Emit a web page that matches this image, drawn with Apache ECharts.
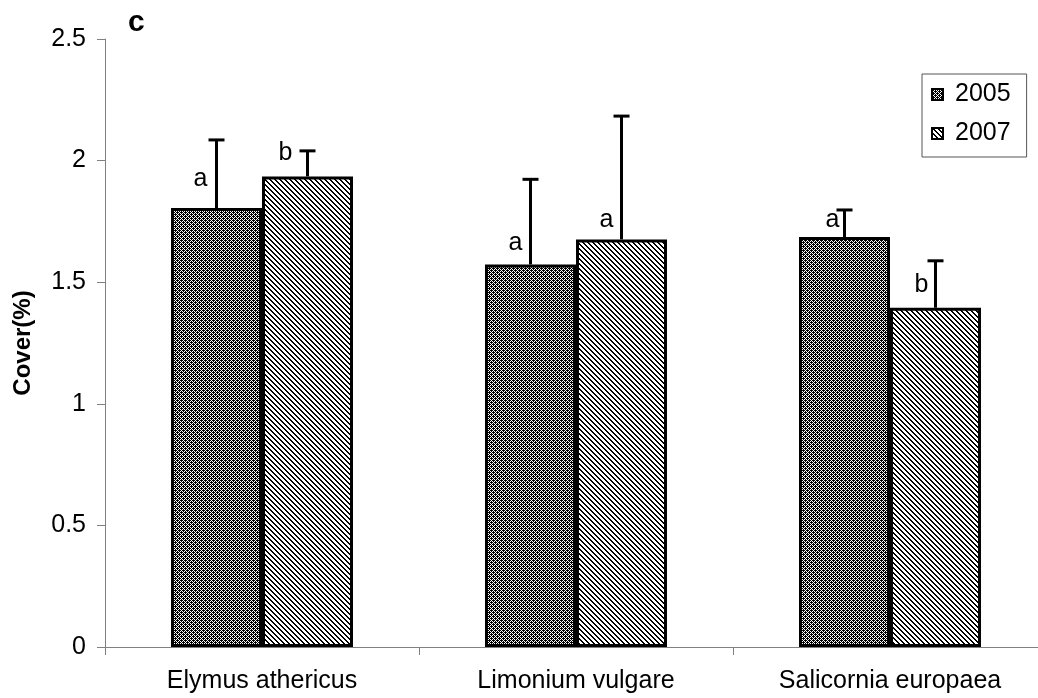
<!DOCTYPE html>
<html>
<head>
<meta charset="utf-8">
<script src="https://cdn.jsdelivr.net/npm/echarts@6/dist/echarts.min.js"></script>
<style>
html,body{margin:0;padding:0;background:#fff;overflow:hidden;width:1038px;height:698px;}
#chart{width:1060px;height:698px;}
</style>
</head>
<body>
<div id="chart"></div>
<script>
// ---- data ----
const categories = ['Elymus athericus', 'Limonium vulgare', 'Salicornia europaea'];
const seriesNames = ['2005', '2007'];
const mean2005 = [1.805, 1.573, 1.686];
const mean2007 = [1.935, 1.676, 1.395];
const errTop2005 = [2.085, 1.923, 1.797];
const errTop2007 = [2.04, 2.183, 1.588];
const letters2005 = ['a', 'a', 'a'];
const letters2007 = ['b', 'a', 'b'];
const yTicks = { min: 0, max: 2.5, interval: 0.5 };
const panelLabel = 'c';
const yAxisTitle = 'Cover(%)';

// ---- styles ----
const FONT = 'Liberation Sans, Arial, sans-serif';
const FS = 25;
const BAR_W = 91;
const letterPos2005 = [[-16, -29], [-15, -21], [-12, -17]];
const letterPos2007 = [[-22, -23], [-15, -19], [-14, -23]];

function makeChecker() {
  const n = 4;
  const c = document.createElement('canvas');
  c.width = n; c.height = n;
  const g = c.getContext('2d');
  g.fillStyle = '#fff'; g.fillRect(0, 0, n, n);
  g.fillStyle = '#000';
  for (let y = 0; y < n; y++) for (let x = 0; x < n; x++) {
    if ((x + y) % 2 === 0) g.fillRect(x, y, 1, 1);
  }
  g.fillRect(1, 0, 1, 1); g.fillRect(3, 2, 1, 1);
  return c;
}
function makeDiag() {
  const n = 5;
  const c = document.createElement('canvas');
  c.width = n; c.height = n;
  const g = c.getContext('2d');
  g.fillStyle = '#fff'; g.fillRect(0, 0, n, n);
  g.fillStyle = '#000';
  for (let i = 0; i < n; i++) {
    g.fillRect(i, i, 1, 1);
    g.fillRect((i + 1) % n, i, 1, 1);
  }
  return c;
}
const pat2005 = { image: makeChecker(), repeat: 'repeat' };
const pat2007 = { image: makeDiag(), repeat: 'repeat' };

function barData(means, letters, pos) {
  return means.map((v, i) => ({
    value: v,
    label: {
      show: true,
      formatter: letters[i],
      position: ['50%', pos[i][1]],
      offset: [pos[i][0], 0],
      align: 'center',
      verticalAlign: 'middle',
      color: '#000',
      fontSize: FS,
      fontFamily: FONT
    }
  }));
}

function errSeries(name, means, tops, dx) {
  return {
    type: 'custom',
    name: name + ' err',
    z: 5,
    silent: true,
    data: means.map((m, i) => [i, tops[i], m]),
    renderItem: function (params, api) {
      const top = api.coord([api.value(0), api.value(1)]);
      const base = api.coord([api.value(0), api.value(2)]);
      const x = top[0] + dx;
      return {
        type: 'group',
        children: [
          { type: 'line', shape: { x1: x, y1: base[1], x2: x, y2: top[1] }, style: { stroke: '#000', lineWidth: 3 } },
          { type: 'line', shape: { x1: x - 8, y1: top[1], x2: x + 8, y2: top[1] }, style: { stroke: '#000', lineWidth: 3 } }
        ]
      };
    }
  };
}

const chart = echarts.init(document.getElementById('chart'), null, { renderer: 'canvas' });
chart.setOption({
  animation: false,
  backgroundColor: '#fff',
  graphic: [{
    type: 'text', left: 128, top: 8,
    style: { text: panelLabel, font: 'bold 30px ' + FONT, fill: '#000' }
  }],
  legend: {
    data: seriesNames,
    left: 922, top: 74,
    orient: 'vertical',
    icon: 'rect',
    itemWidth: 11, itemHeight: 11,
    itemGap: 14,
    padding: [8, 16, 11, 9],
    borderColor: '#555', borderWidth: 1,
    textStyle: { fontSize: FS, fontFamily: FONT, color: '#000', padding: [0, 0, 0, 7] },
    itemStyle: { borderColor: '#000', borderWidth: 2 }
  },
  grid: { left: 105, top: 39, width: 942, height: 608, containLabel: false },
  xAxis: {
    type: 'category',
    data: categories,
    axisLine: { lineStyle: { color: '#808080', width: 1 } },
    axisTick: { show: true, length: 8, lineStyle: { color: '#808080' } },
    axisLabel: { fontSize: FS, fontFamily: FONT, color: '#000', margin: 22 },
    splitLine: { show: false }
  },
  yAxis: {
    type: 'value',
    min: yTicks.min, max: yTicks.max, interval: yTicks.interval,
    name: yAxisTitle,
    nameLocation: 'middle',
    nameGap: 70,
    nameTextStyle: { fontSize: 24, fontWeight: 'bold', fontFamily: FONT, color: '#000' },
    axisLine: { show: true, lineStyle: { color: '#808080', width: 1 } },
    axisTick: { show: true, length: 8, lineStyle: { color: '#808080' } },
    axisLabel: { fontSize: FS, fontFamily: FONT, color: '#000', margin: 19 },
    splitLine: { show: false }
  },
  series: [
    {
      name: seriesNames[0], type: 'bar', barWidth: BAR_W, barGap: '0%',
      itemStyle: { color: pat2005, borderColor: '#000', borderWidth: 3 },
      data: barData(mean2005, letters2005, letterPos2005)
    },
    {
      name: seriesNames[1], type: 'bar', barWidth: BAR_W, barGap: '0%',
      itemStyle: { color: pat2007, borderColor: '#000', borderWidth: 3 },
      data: barData(mean2007, letters2007, letterPos2007)
    },
    errSeries(seriesNames[0], mean2005, errTop2005, -BAR_W / 2),
    errSeries(seriesNames[1], mean2007, errTop2007, BAR_W / 2)
  ]
});
</script>
</body>
</html>
